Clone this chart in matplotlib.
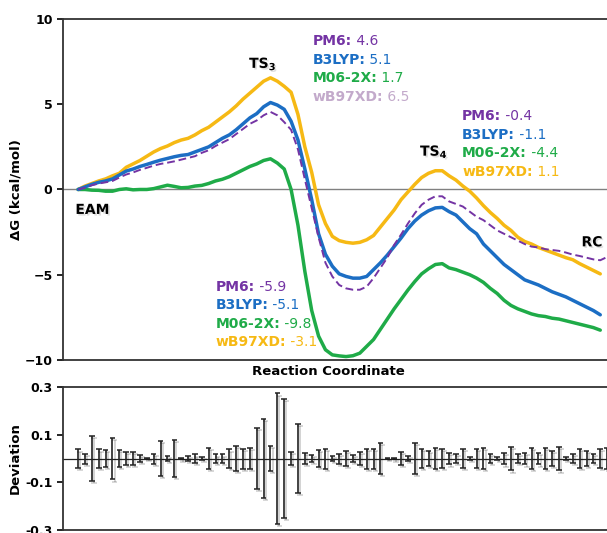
import matplotlib.pyplot as plt
import matplotlib.patheffects as pe
import numpy as np

# free energy profiles (kcal/mol) along the reaction coordinate
wb97xd = [0, 0.2, 0.35, 0.5, 0.62, 0.8, 0.95, 1.3, 1.5, 1.7,
          1.95, 2.2, 2.4, 2.55, 2.75, 2.9, 3.0, 3.2, 3.45, 3.65,
          3.95, 4.25, 4.55, 4.9, 5.3, 5.65, 6.0, 6.35, 6.55, 6.35,
          6.05, 5.7, 4.4, 2.5, 1.0, -0.9, -2.0, -2.75, -3.0, -3.1,
          -3.15, -3.1, -2.95, -2.7, -2.2, -1.7, -1.2, -0.6, -0.15, 0.3,
          0.7, 0.95, 1.1, 1.1, 0.8, 0.55, 0.2, -0.1, -0.5, -0.95,
          -1.35, -1.7, -2.1, -2.4, -2.8, -3.05, -3.2, -3.4, -3.55, -3.7,
          -3.85, -4.0, -4.12, -4.35, -4.55, -4.75, -4.95]
b3lyp = [0, 0.15, 0.3, 0.42, 0.5, 0.62, 0.85, 1.08, 1.2, 1.35,
         1.47, 1.6, 1.72, 1.82, 1.92, 2.0, 2.05, 2.2, 2.35, 2.5,
         2.75, 3.0, 3.2, 3.5, 3.85, 4.2, 4.45, 4.85, 5.1, 4.95,
         4.7, 4.0, 2.9, 1.2, -0.6, -2.6, -3.8, -4.5, -4.95, -5.1,
         -5.2, -5.2, -5.1, -4.7, -4.3, -3.85, -3.35, -2.85, -2.3, -1.85,
         -1.5, -1.25, -1.08, -1.05, -1.3, -1.5, -1.9, -2.3, -2.6, -3.2,
         -3.6, -4.0, -4.4, -4.7, -5.0, -5.3, -5.45, -5.6, -5.8, -6.0,
         -6.15, -6.3, -6.5, -6.7, -6.9, -7.1, -7.35]
m062x = [0, 0.0, -0.04, -0.05, -0.1, -0.1, 0.0, 0.04, -0.02, 0.0,
         0.0, 0.05, 0.15, 0.25, 0.18, 0.1, 0.12, 0.2, 0.24, 0.35,
         0.5, 0.6, 0.75, 0.95, 1.15, 1.35, 1.5, 1.7, 1.8, 1.55,
         1.2, 0.0, -2.1, -4.8, -7.1, -8.6, -9.4, -9.7, -9.76, -9.8,
         -9.75, -9.6, -9.2, -8.8, -8.2, -7.6, -7.0, -6.45, -5.9, -5.4,
         -4.95, -4.65, -4.4, -4.35, -4.6, -4.7, -4.85, -5.0, -5.2, -5.45,
         -5.8, -6.1, -6.5, -6.8, -7.0, -7.15, -7.3, -7.4, -7.45, -7.55,
         -7.6, -7.7, -7.8, -7.9, -8.0, -8.1, -8.25]
pm6 = [0, 0.1, 0.25, 0.35, 0.42, 0.5, 0.7, 0.88, 1.0, 1.15,
       1.27, 1.4, 1.5, 1.57, 1.65, 1.75, 1.85, 1.95, 2.15, 2.3,
       2.55, 2.75, 2.95, 3.25, 3.55, 3.85, 4.05, 4.35, 4.55, 4.35,
       3.95, 3.5, 2.35, 0.6, -1.1, -2.8, -4.3, -5.1, -5.6, -5.8,
       -5.88, -5.88, -5.7, -5.2, -4.6, -4.0, -3.25, -2.65, -2.0, -1.4,
       -0.9, -0.6, -0.4, -0.4, -0.7, -0.85, -1.0, -1.3, -1.6, -1.8,
       -2.1, -2.4, -2.6, -2.8, -3.0, -3.2, -3.35, -3.4, -3.5, -3.55,
       -3.6, -3.7, -3.82, -3.9, -4.0, -4.1, -4.15, -3.96]

# deviation half-widths for each frame
deviation = [0.038, 0.021, 0.093, 0.038, 0.034, 0.088, 0.035, 0.028, 0.028, 0.014,
             0.003, 0.021, 0.073, 0.010, 0.076, 0.004, 0.011, 0.017, 0.007, 0.043,
             0.017, 0.017, 0.038, 0.052, 0.042, 0.045, 0.127, 0.165, 0.052, 0.273,
             0.248, 0.028, 0.144, 0.024, 0.015, 0.035, 0.042, 0.009, 0.021, 0.030,
             0.013, 0.028, 0.042, 0.042, 0.066, 0.003, 0.004, 0.028, 0.012, 0.066,
             0.040, 0.030, 0.045, 0.040, 0.025, 0.020, 0.040, 0.005, 0.040, 0.045,
             0.020, 0.005, 0.025, 0.050, 0.020, 0.025, 0.045, 0.025, 0.045, 0.030,
             0.050, 0.005, 0.020, 0.040, 0.030, 0.020, 0.040, 0.045]

methods = ['PM6:', 'B3LYP:', 'M06-2X:', 'wB97XD:']
ts3_vals = ['4.6', '5.1', '1.7', '6.5']
ts4_vals = ['-0.4', '-1.1', '-4.4', '1.1']
min_vals = ['-5.9', '-5.1', '-9.8', '-3.1']

c_pm6 = '#7434a4'
c_b3 = '#1c6ec4'
c_m06 = '#1fab48'
c_wb = '#f6b914'
c_wb_light = '#c3aacb'

plt.rcParams['font.family'] = 'DejaVu Sans'
fig = plt.figure(figsize=(6.07, 5.33), dpi=100)
ax = fig.add_axes([0.1038, 0.3246, 0.91, 0.6398])
ax2 = fig.add_axes([0.1038, 0.0056, 0.91, 0.2683])

shadow = [pe.withSimplePatchShadow(offset=(1.2, -1.2), alpha=0.12)]
lshadow = [pe.SimpleLineShadow(offset=(1.5, -1.5), alpha=0.2), pe.Normal()]

x = np.arange(len(wb97xd))
ax.axhline(0, color='#808080', lw=1.0, zorder=1)
ax.plot(x, wb97xd, color=c_wb, lw=2.5, solid_capstyle='round', zorder=3)
ax.plot(x, b3lyp, color=c_b3, lw=2.5, solid_capstyle='round', zorder=4)
ax.plot(x, m062x, color=c_m06, lw=2.5, solid_capstyle='round', zorder=3)
ax.plot(np.arange(len(pm6)), pm6, color=c_pm6, lw=1.4, ls=(0, (4, 2)), zorder=5)

ax.set_xlim(-2.2, 78.2)
ax.set_ylim(-10, 10)
ax.set_yticks([10, 5, 0, -5, -10])
ax.set_xticks([])
ax.spines['right'].set_visible(False)
for s in ['left', 'top', 'bottom']:
    ax.spines[s].set_linewidth(1.3)
    ax.spines[s].set_color('#333333')
ax.tick_params(axis='y', length=4, width=1.2, labelsize=9)
for t in ax.get_yticklabels():
    t.set_fontweight('bold')
ax.set_ylabel('ΔG (kcal/mol)', fontsize=9.5, fontweight='bold')
ax.yaxis.set_label_coords(-0.074, 0.5)
ax.set_xlabel('Reaction Coordinate', fontsize=9.5, fontweight='bold')
ax.xaxis.set_label_coords(0.48, -0.015)

# state labels
ax.text(26.9, 7.35, 'TS$_\\mathbf{3}$', fontsize=10, fontweight='bold',
        ha='center', va='center', path_effects=shadow)
ax.text(51.8, 2.2, 'TS$_\\mathbf{4}$', fontsize=10, fontweight='bold',
        ha='center', va='center', path_effects=shadow)
ax.text(-0.4, -1.2, 'EAM', fontsize=10, fontweight='bold',
        ha='left', va='center', path_effects=shadow)
ax.text(74.8, -3.1, 'RC', fontsize=10, fontweight='bold',
        ha='center', va='center', path_effects=shadow)


def energy_block(x0, y0, values, colors):
    y = y0
    for name, val, col in zip(methods, values, colors):
        t = ax.text(x0, y, name, color=col, fontsize=10, fontweight='bold',
                    ha='left', va='center')
        ax.annotate(' ' + val, xy=(1, 0.5), xycoords=t, color=col,
                    fontsize=10, ha='left', va='center')
        y -= 1.09


energy_block(34.1, 8.7, ts3_vals, [c_pm6, c_b3, c_m06, c_wb_light])
energy_block(55.9, 4.3, ts4_vals, [c_pm6, c_b3, c_m06, c_wb])
energy_block(20.0, -5.7, min_vals, [c_pm6, c_b3, c_m06, c_wb])

# deviation panel
xd = np.arange(len(deviation))
ax2.axhline(0, color='#222222', lw=0.9, zorder=1)
eb = ax2.errorbar(xd, np.zeros(len(deviation)), yerr=deviation, fmt='none',
                  ecolor='#222222', elinewidth=1.2, capsize=2, capthick=1.1,
                  zorder=3)
for coll in eb.lines[2]:
    coll.set_path_effects(lshadow)
for cap in eb.lines[1]:
    cap.set_path_effects(lshadow)
ax2.set_xlim(ax.get_xlim())
ax2.set_ylim(-0.3, 0.3)
ax2.set_yticks([0.3, 0.1, -0.1, -0.3])
ax2.set_yticklabels(['0.3', '0.1', '-0.1', '-0.3'])
ax2.set_xticks([])
ax2.spines['right'].set_visible(False)
for s in ['left', 'top', 'bottom']:
    ax2.spines[s].set_linewidth(1.3)
    ax2.spines[s].set_color('#333333')
ax2.tick_params(axis='y', length=4, width=1.2, labelsize=9)
for t in ax2.get_yticklabels():
    t.set_fontweight('bold')
ax2.set_ylabel('Deviation', fontsize=9.5, fontweight='bold')
ax2.yaxis.set_label_coords(-0.074, 0.5)

fig.savefig('out.png', dpi=100)
